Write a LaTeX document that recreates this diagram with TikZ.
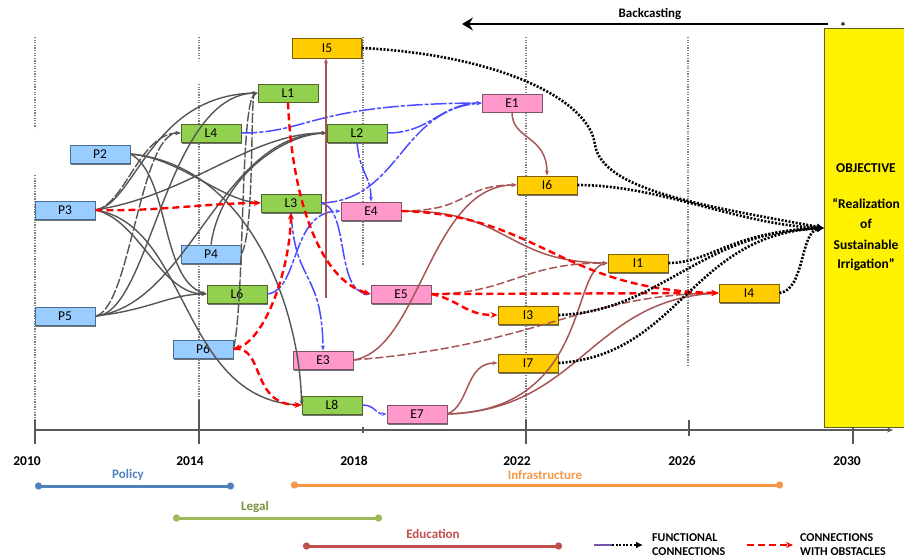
\documentclass[tikz,border=0pt]{standalone}
\usepackage{fontspec}
\setmainfont{Carlito}
\usetikzlibrary{arrows.meta,shadows}
\definecolor{pfill}{HTML}{99CCFF}
\definecolor{pdraw}{HTML}{4A6F96}
\definecolor{lfill}{HTML}{92D050}
\definecolor{ldraw}{HTML}{4F6228}
\definecolor{efill}{HTML}{FF99CC}
\definecolor{edraw}{HTML}{7F5468}
\definecolor{ifill}{HTML}{FFCC00}
\definecolor{idraw}{HTML}{7F6000}
\definecolor{brownc}{HTML}{A65656}
\definecolor{bluec}{HTML}{4B4BFF}
\definecolor{grayc}{HTML}{555555}
\definecolor{gridc}{HTML}{808080}
\definecolor{polc}{HTML}{4F81BD}
\definecolor{infc}{HTML}{F79646}
\definecolor{legc}{HTML}{9BBB59}
\definecolor{legt}{HTML}{76923C}
\definecolor{educ}{HTML}{C0504D}
\tikzset{
 box/.style={rectangle, minimum width=60pt, minimum height=18pt, inner sep=0pt, line width=0.9pt,
   font=\fontsize{13.5}{13.5}\selectfont,
   drop shadow={shadow xshift=1pt,shadow yshift=-1.5pt,fill=black!55,opacity=1}},
 pbox/.style={box, fill=pfill, draw=pdraw},
 lbox/.style={box, fill=lfill, draw=ldraw},
 ebox/.style={box, fill=efill, draw=edraw},
 ibox/.style={box, fill=ifill, draw=idraw},
 gl/.style={draw=grayc, line width=1.4pt, -{Stealth[length=5pt,width=4pt]}},
 gld/.style={gl, dash pattern=on 10pt off 2pt},
 bl/.style={draw=bluec, line width=1.5pt, dash pattern=on 16pt off 2pt on 4pt off 2pt, -{Stealth[length=5pt,width=4pt]}},
 rd/.style={draw=red, line width=2.4pt, dash pattern=on 7pt off 4pt, -{Stealth[length=7pt,width=6pt]}},
 rdb/.style={rd, {Stealth[length=7pt,width=6pt]}-{Stealth[length=7pt,width=6pt]}},
 br/.style={draw=brownc, line width=1.5pt, -{Stealth[length=5pt,width=4pt]}},
 brd/.style={br, dash pattern=on 8pt off 3pt},
 fc/.style={draw=black, line width=2.6pt, dash pattern=on 2pt off 1.6pt, -{Latex[length=7pt,width=7pt]}},
 gridl/.style={draw=gridc, line width=1.3pt, dash pattern=on 1.3pt off 1.3pt},
 tick/.style={draw=gray!70!black, line width=1.4pt},
 yr/.style={font=\fontsize{13.5}{13.5}\selectfont\bfseries},
 legbar/.style={line width=3pt, {Circle[length=7pt]}-{Circle[length=7pt]}},
 legtxt/.style={font=\fontsize{13}{13}\selectfont\bfseries},
 keytxt/.style={font=\fontsize{12}{12}\selectfont\bfseries, anchor=base west, inner sep=0pt},
 objtxt/.style={font=\fontsize{13.5}{13.5}\selectfont\bfseries, anchor=base, inner sep=0pt},
}
\begin{document}
\begin{tikzpicture}[x=1pt,y=-1pt]
\useasboundingbox (0,0) rectangle (904,559);
\clip (0,0) rectangle (904,559);
% grid lines
\draw[gridl] (35,37) -- (35,128);
\draw[gridl] (35,175) -- (35,420);
\draw[gridl] (199,37) -- (199,60);
\draw[gridl] (199,84) -- (199,400);
\draw[gridl] (363,37) -- (363,265);
\draw[gridl] (526,37) -- (526,420);
\draw[gridl] (688,37) -- (688,367);
% axis
\coordinate (ax0) at (35,430);
\coordinate (ax1) at (893,430);
\draw[tick, -{Stealth[length=6pt,width=5pt]}] (ax0) -- (ax1);
\draw[tick] (35,420) -- (35,444);
\draw[tick] (199,400) -- (199,444);
\draw[tick] (363,427) -- (363,433);
\draw[tick] (526,420) -- (526,444);
\draw[tick] (689,420) -- (689,436);
\node[draw=olive!60!black, fill=yellow, line width=1pt, minimum width=120pt, minimum height=399pt,
  anchor=north west, inner sep=0pt] (OBJ) at (824,28) {};
\draw[tick] (853,427) -- (853,444);
% objective text
\node[objtxt] (o1) at (866,172) {OBJECTIVE};
\node[objtxt] (o2) at (866,208) {“Realization};
\node[objtxt] (o3) at (866,228) {of};
\node[objtxt] (o4) at (866,249) {Sustainable};
\node[objtxt] (o5) at (866,268) {Irrigation”};
% years
\node[yr] (y10) at (27,461) {2010};
\node[yr] (y14) at (190,461) {2014};
\node[yr] (y18) at (354,461) {2018};
\node[yr] (y22) at (517,461) {2022};
\node[yr] (y26) at (682,461) {2026};
\node[yr] (y30) at (847,461) {2030};
% backcasting
\coordinate (bc0) at (828,24);
\coordinate (bc1) at (462,24);
\draw[line width=2.6pt, -{Stealth[length=11pt,width=13pt,inset=4pt]}] (bc0) -- (bc1);
\node[font=\fontsize{13}{13}\selectfont\bfseries] (bct) at (650,14) {Backcasting};
\node[font=\fontsize{13}{13}\selectfont\bfseries] (star) at (843,27) {*};

% nodes
\node[ibox, minimum width=69pt, minimum height=20pt] (I5) at (327,48) {I5};
\node[lbox] (L1) at (288,93) {L1};
\node[ebox] (E1) at (512,103) {E1};
\node[lbox] (L4) at (211,133) {L4};
\node[lbox] (L2) at (357,133) {L2};
\node[pbox] (P2) at (100,154) {P2};
\node[ibox] (I6) at (547,185) {I6};
\node[lbox] (L3) at (291,203) {L3};
\node[ebox] (E4) at (371,211) {E4};
\node[pbox] (P3) at (65,210) {P3};
\node[pbox] (P4) at (211,254) {P4};
\node[ibox] (I1) at (638,263) {I1};
\node[lbox] (L6) at (237,294) {L6};
\node[ebox] (E5) at (401,294) {E5};
\node[ibox] (I4) at (749,293) {I4};
\node[pbox] (P5) at (65,316) {P5};
\node[ibox] (I3) at (528,315) {I3};
\node[pbox] (P6) at (203,349) {P6};
\node[ebox] (E3) at (323,360) {E3};
\node[ibox] (I7) at (528,363) {I7};
\node[lbox] (L8) at (332,405) {L8};
\node[ebox] (E7) at (417,414) {E7};

% gray policy -> legal connectors
\draw[gl] (P3.east) .. controls (135,205) and (150,95) .. (L1.west);
\draw[gld] (P3.east) .. controls (125,205) and (140,133) .. (L4.west);
\draw[gl] (P3.east) .. controls (190,195) and (250,133) .. (L2.west);
\draw[gl] (P3.east) .. controls (140,220) and (160,294) .. (L6.west);
\draw[gl] (P3.east) .. controls (190,225) and (180,400) .. (L8.west);
\draw[gl] (P2.east) .. controls (180,158) and (220,200) .. (L3.west);
\draw[gl] (P2.east) .. controls (250,165) and (300,310) .. (L8.west);
\draw[gl] (P2.east) .. controls (170,175) and (160,280) .. (L6.west);
\draw[gl] (P5.east) .. controls (150,316) and (165,95) .. (L1.west);
\draw[gld] (P5.east) .. controls (130,310) and (140,133) .. (L4.west);
\draw[gl] (P5.east) .. controls (190,305) and (220,135) .. (L2.west);
\draw[gl] (P5.east) .. controls (150,310) and (170,294) .. (L6.west);
\draw[gld] (P4.east) .. controls (255,230) and (250,95) .. (L1.west);
\draw[gl] (P4.north) .. controls (220,180) and (280,135) .. (L2.west);
\draw[gld] (P6.east) .. controls (245,300) and (240,100) .. (L1.west);

% blue connectors
\draw[bl] (L4.east) .. controls (310,133) and (310,104) .. (E1.west);
\draw[bl] (L2.east) .. controls (430,133) and (440,104) .. (E1.west);
\draw[bl] (L3.east) .. controls (400,200) and (400,110) .. (E1.west);
\draw[bl] (L2.south) .. controls (360,175) and (371,175) .. (E4.north);
\draw[bl] (L3.east) .. controls (350,210) and (335,292) .. (E5.west);
\draw[bl] (L6.east) .. controls (300,290) and (290,212) .. (E4.west);
\draw[bl] (L3.south) .. controls (295,285) and (322,270) .. (E3.north);
\draw[bl] (L8.east) .. controls (375,405) and (375,414) .. (E7.west);

% brown connectors
\coordinate (bv) at (326,298);
\draw[br] (bv) -- (bv |- I5.south);
\draw[br] (E1.south) .. controls (512,140) and (547,135) .. (I6.north);
\draw[brd] (E4.east) .. controls (470,211) and (460,185) .. (I6.west);
\draw[br] (E4.east) .. controls (510,210) and (505,262) .. (I1.west);
\draw[br] (E3.east) .. controls (420,350) and (430,185) .. (I6.west);
\draw[brd] (E3.east) .. controls (540,345) and (580,295) .. (I4.west);
\draw[brd] (E5.east) .. controls (510,294) and (520,263) .. (I1.west);
\draw[br] (E7.east) .. controls (470,405) and (465,363) .. (I7.west);
\draw[br] (E7.east) .. controls (590,410) and (570,270) .. (I1.west);
\draw[br] (E7.east) .. controls (580,410) and (590,300) .. (I4.west);

% red connectors with obstacles
\draw[rd] (P3.east) .. controls (150,212) and (210,203) .. (L3.west);
\draw[rd] (L1.south) .. controls (292,200) and (320,280) .. (E5.west);
\draw[rdb] (L3.south) .. controls (290,270) and (265,340) .. (P6.east);
\draw[rd] (P6.east) .. controls (265,345) and (250,405) .. (L8.west);
\draw[rd] (E4.east) .. controls (540,215) and (560,290) .. (I4.west);
\draw[rd] (E5.east) -- (I4.west);
\draw[rd] (E5.east) .. controls (460,300) and (465,315) .. (I3.west);

% functional connections to objective
\draw[fc] (I5.east) .. controls (500,55) and (590,100) .. (595,145) .. controls (603,190) and (700,205) .. (OBJ.west);
\draw[fc] (I6.east) .. controls (660,185) and (740,225) .. (OBJ.west);
\draw[fc] (I1.east) .. controls (710,263) and (730,232) .. (OBJ.west);
\draw[fc] (I3.east) .. controls (660,312) and (700,232) .. (OBJ.west);
\draw[fc] (I7.east) .. controls (680,355) and (690,235) .. (OBJ.west);
\draw[fc] (I4.east) .. controls (805,290) and (800,232) .. (OBJ.west);

% legend bars
\draw[legbar, draw=polc, fill=polc] (35,486) -- (234,486);
\node[legtxt, text=polc] (tpol) at (128,475) {Policy};
\draw[legbar, draw=infc, fill=infc] (291,485) -- (783,485);
\node[legtxt, text=infc] (tinf) at (545,475) {Infrastructure};
\draw[legbar, draw=legc, fill=legc] (173,518) -- (382,518);
\node[legtxt, text=legt] (tleg) at (255,507) {Legal};
\draw[legbar, draw=educ, fill=educ] (303,546) -- (562,546);
\node[legtxt, text=educ] (tedu) at (433,534) {Education};

% legend keys
\coordinate (k1a) at (594,545);
\coordinate (k1b) at (612,545);
\coordinate (k1c) at (643,545);
\draw[draw=brownc!50!bluec, line width=2.4pt] (k1a) -- (k1b);
\draw[fc] (k1b) -- (k1c);
\node[keytxt] (kt1) at (652,541) {FUNCTIONAL};
\node[keytxt] (kt2) at (652,555) {CONNECTIONS};
\coordinate (k2a) at (747,545);
\coordinate (k2b) at (793,545);
\draw[rd] (k2a) -- (k2b);
\node[keytxt] (kt3) at (800,541) {CONNECTIONS};
\node[keytxt] (kt4) at (800,555) {WITH OBSTACLES};
\end{tikzpicture}
\end{document}
